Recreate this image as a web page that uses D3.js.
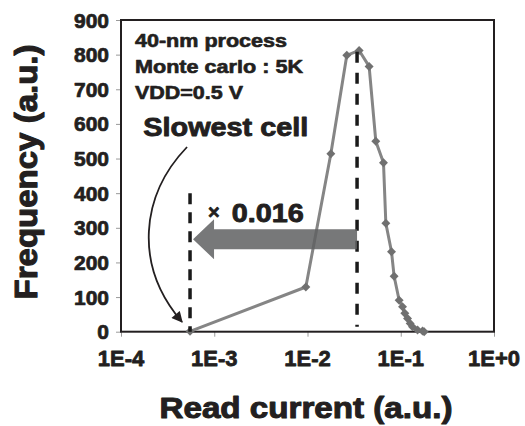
<!DOCTYPE html>
<html>
<head>
<meta charset="utf-8">
<script src="https://cdn.jsdelivr.net/npm/d3@7"></script>
<style>
  html, body { margin: 0; padding: 0; background: #fff; }
  svg text { font-family: "Liberation Sans", Arial, Helvetica, sans-serif; fill: #231f20; }
</style>
</head>
<body>
<svg id="chart" width="525" height="426"></svg>
<script>
// Read-current distribution from a 5K-sample Monte Carlo run
const readCurrent = [5.5e-4, 9.6e-3, 0.0178, 0.0264, 0.0358, 0.0458, 0.054, 0.0653,
  0.0692, 0.0796, 0.0849, 0.0961, 0.1045, 0.1106, 0.1183, 0.1262, 0.1337, 0.1514, 0.1714, 0.1783];
const frequency = [1, 129, 514, 798, 812, 766, 550, 488,
  313, 231, 160, 91, 72, 53, 38, 24, 14, 5, 2, 0];

const yTicks = [0, 100, 200, 300, 400, 500, 600, 700, 800, 900];
const xTicks = [1e-4, 1e-3, 1e-2, 1e-1, 1];
const xTickLabels = ["1E-4", "1E-3", "1E-2", "1E-1", "1E+0"];

const slowestCell = 5.5e-4;   // weakest sample
const medianCell = 0.034;     // centre of the distribution
const arrowLevel = 267;       // height of the shift arrow (frequency units)
const notes = ["40-nm process", "Monte carlo : 5K", "VDD=0.5 V"];

const svg = d3.select("#chart");
const plot = { left: 121, right: 494, top: 20, bottom: 331.7 };

const x = d3.scaleLog().domain([1e-4, 1]).range([plot.left, plot.right]);
const y = d3.scaleLinear().domain([0, 900]).range([plot.bottom, plot.top]);

// heavy bold text helper
function bold(sel, size) {
  return sel.attr("font-weight", "bold").attr("font-size", size)
    .attr("stroke", "#231f20").attr("stroke-width", size * 0.035)
    .attr("stroke-linejoin", "round");
}

// Axes with small grey outward ticks
const yAxis = svg.append("g").attr("transform", `translate(${plot.left},0)`)
  .call(d3.axisLeft(y).tickValues(yTicks).tickSize(5).tickFormat(""));
const xAxis = svg.append("g").attr("transform", `translate(0,${plot.bottom})`)
  .call(d3.axisBottom(x).tickValues(xTicks).tickSize(5).tickFormat(""));
[yAxis, xAxis].forEach(g => {
  g.select(".domain").remove();
  g.selectAll(".tick line").attr("stroke", "#9a9a9a").attr("stroke-width", 1);
});

bold(svg.selectAll("text.ytick").data(yTicks).join("text")
  .attr("class", "ytick")
  .attr("x", 109).attr("y", d => y(d) + 7.5)
  .attr("text-anchor", "end"), 21)
  .text(d => d);

bold(svg.selectAll("text.xtick").data(xTicks).join("text")
  .attr("class", "xtick")
  .attr("x", d => x(d)).attr("y", 366)
  .attr("text-anchor", "middle"), 22)
  .text((d, i) => xTickLabels[i]);

// Frame
svg.append("rect")
  .attr("x", plot.left).attr("y", plot.top)
  .attr("width", plot.right - plot.left).attr("height", plot.bottom - plot.top)
  .attr("fill", "none").attr("stroke", "#231f20").attr("stroke-width", 2);

// Distribution curve
const pts = readCurrent.map((c, i) => [c, frequency[i]]);
svg.append("path")
  .datum(pts)
  .attr("fill", "none").attr("stroke", "#858585").attr("stroke-width", 3)
  .attr("stroke-linejoin", "round")
  .attr("d", d3.line().x(d => x(d[0])).y(d => y(d[1])));

svg.selectAll("path.marker").data(pts).join("path")
  .attr("class", "marker")
  .attr("transform", d => `translate(${x(d[0])},${y(d[1])}) rotate(45)`)
  .attr("d", d3.symbol().type(d3.symbolSquare).size(40))
  .attr("fill", "#707070");

// Dashed reference lines at the slowest cell and the median
svg.append("line")
  .attr("x1", x(slowestCell)).attr("x2", x(slowestCell))
  .attr("y1", y(400)).attr("y2", plot.bottom)
  .attr("stroke", "#1a1a1a").attr("stroke-width", 3.5).attr("stroke-dasharray", "11,8");
svg.append("line")
  .attr("x1", x(medianCell)).attr("x2", x(medianCell))
  .attr("y1", y(808)).attr("y2", plot.bottom - 5)
  .attr("stroke", "#1a1a1a").attr("stroke-width", 3.5).attr("stroke-dasharray", "11,10");

// Shift arrow from the median down to the slowest cell
const ay = y(arrowLevel);
const tipX = x(slowestCell) + 3;
const baseX = x(medianCell);
const arrowShape = [
  [baseX, ay - 10], [tipX + 21, ay - 10], [tipX + 21, ay - 20], [tipX, ay],
  [tipX + 21, ay + 20], [tipX + 21, ay + 10], [baseX, ay + 10]
];
svg.append("path")
  .attr("d", d3.line()(arrowShape) + "Z")
  .attr("fill", "#5f6062").attr("fill-opacity", 0.85);

// Ratio label
const ratio = d3.format(".3f")(slowestCell / medianCell);
bold(svg.append("text").attr("x", 208).attr("y", 219), 20).text("×");
bold(svg.append("text").attr("x", 231.7).attr("y", 221.7), 25)
  .attr("textLength", 72).attr("lengthAdjust", "spacingAndGlyphs").text(ratio);

// Simulation conditions
const noteWidths = [152, 168, 108];
bold(svg.selectAll("text.note").data(notes).join("text")
  .attr("class", "note")
  .attr("x", 135).attr("y", (d, i) => 46.7 + i * 26), 18.5)
  .attr("textLength", (d, i) => noteWidths[i]).attr("lengthAdjust", "spacingAndGlyphs")
  .text(d => d);

// "Slowest cell" callout with curved pointer
bold(svg.append("text").attr("x", 143.3).attr("y", 136), 25)
  .attr("textLength", 165).attr("lengthAdjust", "spacingAndGlyphs").text("Slowest cell");

svg.append("defs").append("marker")
  .attr("id", "head").attr("viewBox", "0 0 10 10")
  .attr("refX", 9).attr("refY", 5)
  .attr("markerWidth", 12).attr("markerHeight", 11)
  .attr("markerUnits", "userSpaceOnUse")
  .attr("orient", "auto")
  .append("path").attr("d", "M0,0 L10,5 L0,10 Z").attr("fill", "#231f20");

const sx = x(slowestCell);
svg.append("path")
  .attr("d", `M${sx - 3},147 C${sx - 49},195 ${sx - 57},265 ${sx - 8},322`)
  .attr("fill", "none").attr("stroke", "#231f20").attr("stroke-width", 1.8)
  .attr("marker-end", "url(#head)");

// Axis titles
bold(svg.append("text").attr("x", 306).attr("y", 418).attr("text-anchor", "middle"), 29)
  .attr("textLength", 293).attr("lengthAdjust", "spacingAndGlyphs")
  .text("Read current (a.u.)");
bold(svg.append("text")
  .attr("transform", "translate(37,172) rotate(-90)")
  .attr("text-anchor", "middle"), 31)
  .attr("textLength", 255).attr("lengthAdjust", "spacingAndGlyphs")
  .text("Frequency (a.u.)");
</script>
</body>
</html>
